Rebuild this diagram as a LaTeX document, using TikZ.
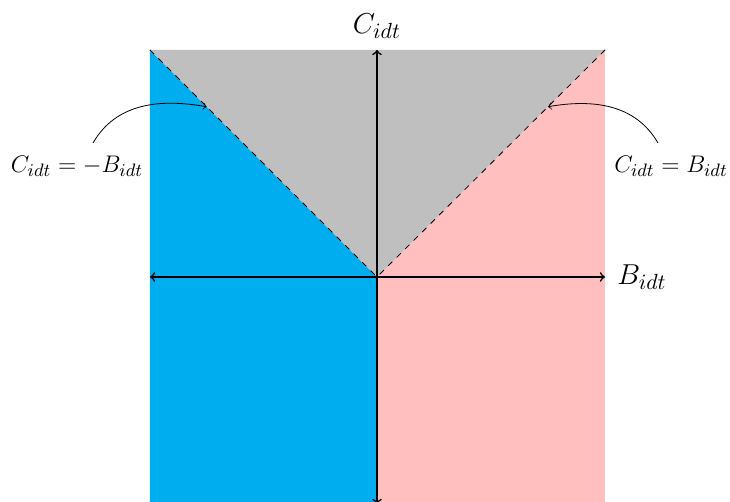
\documentclass[tikz,border=0pt]{standalone}
\usetikzlibrary{calc}
\definecolor{leftblue}{RGB}{0,173,239}
\definecolor{rightpink}{RGB}{255,191,191}
\definecolor{topgray}{RGB}{191,191,191}
\begin{document}
\begin{tikzpicture}[x=0.5pt,y=0.5pt,
  axislabel/.style={font=\fontsize{15.5}{18}\selectfont, inner sep=0pt},
  eqlabel/.style={font=\fontsize{12.5}{15}\selectfont, inner sep=0pt},
  axisline/.style={thick,<->},
  diag/.style={thin,dashed},
  callout/.style={thin,->}]
\useasboundingbox (-377,-225) rectangle (353,277);
\coordinate (O) at (0,0);
\coordinate (TL) at (-227,227);
\coordinate (TR) at (228,227);
\coordinate (BL) at (-227,-227);
\coordinate (BR) at (228,-227);
\coordinate (T) at (0,227);
\coordinate (B) at (0,-227);
\coordinate (L) at (-227,0);
\coordinate (R) at (228,0);
% regions
\fill[leftblue] (TL) -- (O) -- (B) -- (BL) -- cycle;
\fill[rightpink] (TR) -- (O) -- (B) -- (BR) -- cycle;
\fill[topgray] (TL) -- (O) -- (TR) -- cycle;
% diagonals
\draw[diag] (TL) -- (O);
\draw[diag] (TR) -- (O);
% axes
\draw[axisline] (L) -- (R);
\draw[axisline] (B) -- (T);
% axis labels
\node[axislabel, anchor=west] (Blab) at (240,0) {$B_{idt}$};
\node[axislabel] (Clab) at (0,251) {$C_{idt}$};
% equation labels
\node[eqlabel] (eqL) at (-300,111) {$C_{idt}=-B_{idt}$};
\node[eqlabel] (eqR) at (294,111) {$C_{idt}=B_{idt}$};
\coordinate (sL) at (-284,134);
\coordinate (sR) at (281,134);
\draw[callout] (sL) to[out=60,in=170] ($(O)!0.75!(TL)$);
\draw[callout] (sR) to[out=120,in=10] ($(O)!0.75!(TR)$);
\end{tikzpicture}
\end{document}
